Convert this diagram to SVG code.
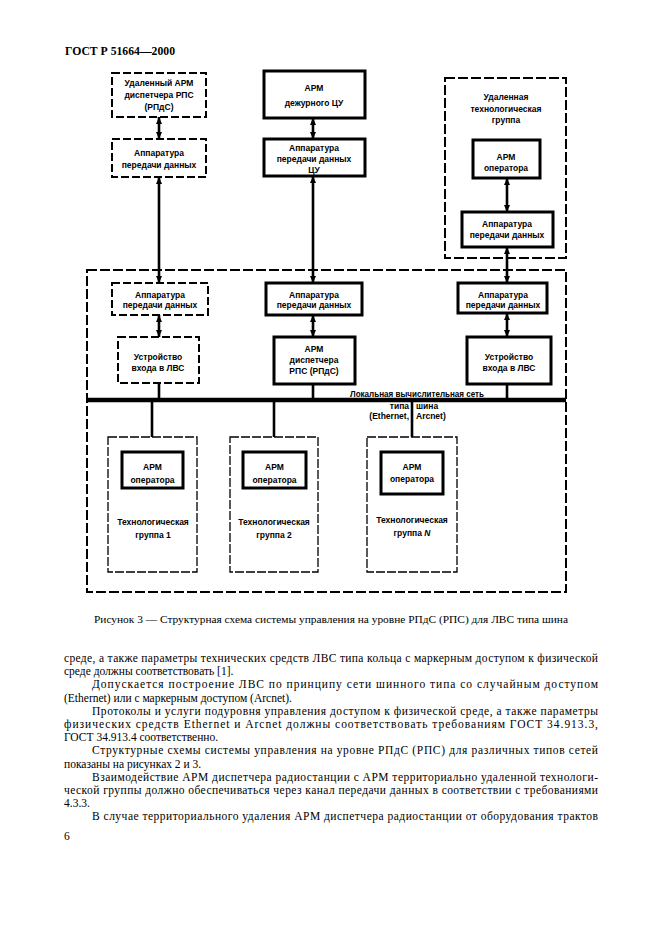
<svg xmlns="http://www.w3.org/2000/svg" width="661" height="936" viewBox="0 0 661 936">
<style>
.bg{fill:#fff}
.t{font-family:"Liberation Sans",Arial,sans-serif;font-size:8.5px;font-weight:bold;fill:#000;text-anchor:middle}
.tl{font-family:"Liberation Sans",Arial,sans-serif;font-size:8.5px;font-weight:bold;fill:#000}
.solid{fill:#fff;stroke:#000;stroke-width:3}
.dash{fill:#fff;stroke:#000;stroke-width:2;stroke-dasharray:8 3}
.thin{fill:none;stroke:#000;stroke-width:1.3;stroke-dasharray:9 2}
.outer{fill:none;stroke:#000;stroke-width:2;stroke-dasharray:10 3}
.ln{stroke:#000;stroke-width:2.6;fill:none}
.ar{stroke:#000;stroke-width:2.6;fill:none;marker-start:url(#ah);marker-end:url(#ah)}
.bus{stroke:#000;stroke-width:4.5}
.body{font-family:"Liberation Serif","Times New Roman",serif;font-size:11.5px;fill:#000}
.cap{font-family:"Liberation Serif","Times New Roman",serif;font-size:11px;fill:#000;text-anchor:middle}
.hdr{font-family:"Liberation Serif","Times New Roman",serif;font-size:11.5px;font-weight:bold;fill:#000}
</style>
<defs>
<marker id="ah" viewBox="0 0 7 6" refX="7" refY="3" markerWidth="7" markerHeight="6" markerUnits="userSpaceOnUse" orient="auto-start-reverse">
<path d="M0,0 L7,3 L0,6 z" fill="#000"/>
</marker>
</defs>
<rect class="bg" x="0" y="0" width="661" height="936"/>
<text class="hdr" x="65" y="55" textLength="110" lengthAdjust="spacingAndGlyphs">ГОСТ Р 51664—2000</text>

<g id="lan-frame"><rect class="outer" x="87" y="270" width="479" height="322"/></g>
<g id="remote-group"><rect class="outer" x="445" y="78" width="121" height="180"/>
<text class="t" x="506" y="100">Удаленная</text><text class="t" x="506" y="111.5">технологическая</text><text class="t" x="506" y="123">группа</text></g>

<g id="connectors">
<line class="ar" x1="159" y1="117" x2="159" y2="139"/>
<line class="ar" x1="159" y1="177" x2="159" y2="283"/>
<line class="ar" x1="313" y1="118" x2="313" y2="139"/>
<line class="ar" x1="313" y1="176" x2="313" y2="283"/>
<line class="ar" x1="507" y1="178" x2="507" y2="212"/>
<line class="ar" x1="507" y1="247" x2="507" y2="283"/>
<line class="ar" x1="159" y1="315" x2="159" y2="337"/>
<line class="ar" x1="313" y1="315" x2="313" y2="337"/>
<line class="ar" x1="507" y1="313" x2="507" y2="337"/>
<line class="ln" x1="159" y1="383" x2="159" y2="400"/>
<line class="ln" x1="313" y1="384" x2="313" y2="400"/>
<line class="ln" x1="507" y1="384" x2="507" y2="400"/>
<line class="ln" x1="152" y1="400" x2="152" y2="437"/>
<line class="ln" x1="274" y1="400" x2="274" y2="437"/>
<line class="ln" x1="412" y1="400" x2="412" y2="437"/>
<line class="bus" x1="87" y1="400" x2="566" y2="400"/>
</g>

<g id="remote-arm"><rect class="dash" x="112" y="73" width="94" height="44"/>
<text class="t" x="159" y="86">Удаленный АРМ</text><text class="t" x="159" y="98">диспетчера РПС</text><text class="t" x="159" y="110">(РПдС)</text></g>
<g id="remote-adp"><rect class="dash" x="112" y="139" width="94" height="38"/>
<text class="t" x="159" y="156">Аппаратура</text><text class="t" x="159" y="168">передачи данных</text></g>

<g id="duty-arm"><rect class="solid" x="264" y="71" width="101" height="47"/>
<text class="t" x="314" y="91">АРМ</text><text class="t" x="314" y="106">дежурного ЦУ</text></g>
<g id="duty-adp"><rect class="solid" x="264" y="139" width="101" height="37"/>
<text class="t" x="314" y="151">Аппаратура</text><text class="t" x="314" y="162">передачи данных</text><text class="t" x="314" y="173">ЦУ</text></g>

<g id="remote-op"><rect class="solid" x="473" y="140" width="67" height="38"/>
<text class="t" x="506" y="160">АРМ</text><text class="t" x="506" y="171">оператора</text></g>
<g id="remote-op-adp"><rect class="solid" x="462" y="212" width="91" height="35"/>
<text class="t" x="507" y="227">Аппаратура</text><text class="t" x="507" y="238">передачи данных</text></g>

<g id="lan-adp-left"><rect class="dash" x="112" y="283" width="96" height="32"/>
<text class="t" x="160" y="298">Аппаратура</text><text class="t" x="160" y="308">передачи данных</text></g>
<g id="lan-gw-left"><rect class="dash" x="118" y="337" width="81" height="46"/>
<text class="t" x="158" y="360">Устройство</text><text class="t" x="158" y="371">входа в ЛВС</text></g>

<g id="lan-adp-mid"><rect class="solid" x="266" y="283" width="96" height="32"/>
<text class="t" x="314" y="298">Аппаратура</text><text class="t" x="314" y="308">передачи данных</text></g>
<g id="dispatcher-arm"><rect class="solid" x="274" y="337" width="81" height="47"/>
<text class="t" x="314" y="352">АРМ</text><text class="t" x="314" y="363">диспетчера</text><text class="t" x="314" y="374">РПС (РПдС)</text></g>

<g id="lan-adp-right"><rect class="solid" x="458" y="283" width="89" height="30"/>
<text class="t" x="503" y="298">Аппаратура</text><text class="t" x="503" y="308">передачи данных</text></g>
<g id="lan-gw-right"><rect class="solid" x="467" y="337" width="84" height="47"/>
<text class="t" x="509" y="360">Устройство</text><text class="t" x="509" y="371">входа в ЛВС</text></g>

<g id="lan-label">
<text class="tl" x="350" y="397" textLength="134" lengthAdjust="spacingAndGlyphs">Локальная вычислительная сеть</text>
<text class="tl" x="409" y="409" text-anchor="end">типа</text>
<text class="tl" x="409" y="419" text-anchor="end">(Ethernet,</text>
<text class="tl" x="416" y="409">шина</text>
<text class="tl" x="416" y="419">Arcnet)</text>
</g>

<g id="group-1"><rect class="thin" x="108" y="437" width="89" height="135"/>
<rect class="solid" x="122" y="452" width="61" height="36"/>
<text class="t" x="152.5" y="470">АРМ</text><text class="t" x="152.5" y="483">оператора</text>
<text class="t" x="153" y="525">Технологическая</text><text class="t" x="153" y="538">группа 1</text></g>
<g id="group-2"><rect class="thin" x="230" y="437" width="88" height="135"/>
<rect class="solid" x="243" y="452" width="63" height="36"/>
<text class="t" x="274.5" y="470">АРМ</text><text class="t" x="274.5" y="483">оператора</text>
<text class="t" x="274" y="525">Технологическая</text><text class="t" x="274" y="538">группа 2</text></g>
<g id="group-n"><rect class="thin" x="367" y="437" width="90" height="135"/>
<rect class="solid" x="381" y="452" width="62" height="42"/>
<text class="t" x="412" y="470">АРМ</text><text class="t" x="412" y="482">оператора</text>
<text class="t" x="412" y="523">Технологическая</text><text class="t" x="412" y="536">группа <tspan font-style="italic">N</tspan></text></g>

<text class="cap" x="331" y="623" textLength="474" lengthAdjust="spacingAndGlyphs">Рисунок 3 — Структурная схема системы управления на уровне РПдС (РПС) для ЛВС типа шина</text>

<g id="body">
<text class="body" x="64" y="662" textLength="534" lengthAdjust="spacing">среде, а также параметры технических средств ЛВС типа кольца с маркерным доступом к физической</text>
<text class="body" x="64" y="675.2">среде должны соответствовать [1].</text>
<text class="body" x="92" y="688.4" textLength="506" lengthAdjust="spacing">Допускается построение ЛВС по принципу сети шинного типа со случайным доступом</text>
<text class="body" x="64" y="701.6">(Ethernet) или с маркерным доступом (Arcnet).</text>
<text class="body" x="92" y="714.8" textLength="506" lengthAdjust="spacing">Протоколы и услуги подуровня управления доступом к физической среде, а также параметры</text>
<text class="body" x="64" y="728" textLength="534" lengthAdjust="spacing">физических средств Ethernet и Arcnet должны соответствовать требованиям ГОСТ 34.913.3,</text>
<text class="body" x="64" y="741.2">ГОСТ 34.913.4 соответственно.</text>
<text class="body" x="92" y="754.4" textLength="506" lengthAdjust="spacing">Структурные схемы системы управления на уровне РПдС (РПС) для различных типов сетей</text>
<text class="body" x="64" y="767.6">показаны на рисунках 2 и 3.</text>
<text class="body" x="92" y="780.8" textLength="506" lengthAdjust="spacing">Взаимодействие АРМ диспетчера радиостанции с АРМ территориально удаленной технологи-</text>
<text class="body" x="64" y="794" textLength="534" lengthAdjust="spacing">ческой группы должно обеспечиваться через канал передачи данных в соответствии с требованиями</text>
<text class="body" x="64" y="807.2">4.3.3.</text>
<text class="body" x="92" y="820.4" textLength="506" lengthAdjust="spacing">В случае территориального удаления АРМ диспетчера радиостанции от оборудования трактов</text>
<text class="body" x="64" y="840">6</text>
</g>
</svg>
